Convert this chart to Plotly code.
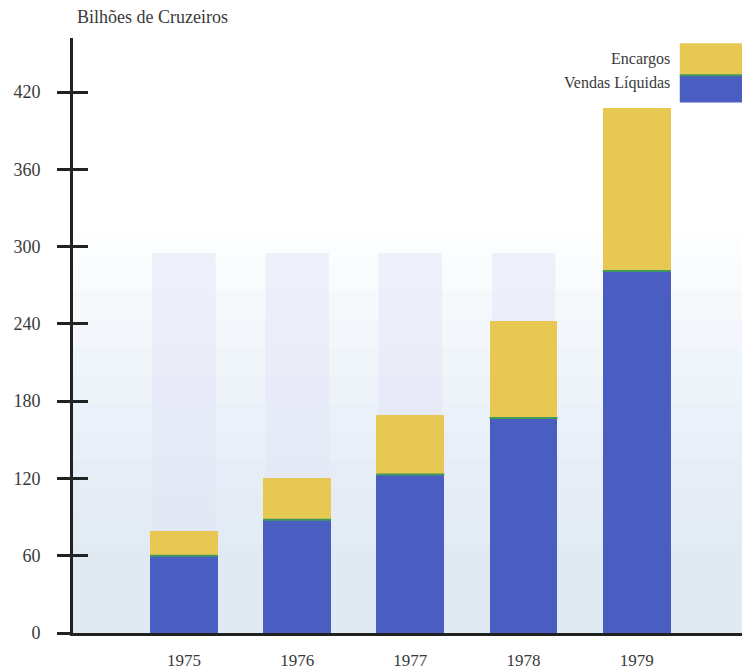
import plotly.graph_objects as go

# Annual figures, in billions of cruzeiros
anos = ["1975", "1976", "1977", "1978", "1979"]
vendas_liquidas = [60, 88, 123, 167, 281]
encargos = [19, 32, 46, 75, 127]
y_ticks = [0, 60, 120, 180, 240, 300, 360, 420]

AZUL = "#4a5ec2"
AMARELO = "#e7c853"
VERDE = "#3f9a5a"
SERIF = "Liberation Serif, DejaVu Serif, serif"
TEXT = "#3a3a3a"
FS = 17

fig = go.Figure()
fig.add_trace(go.Bar(
    x=list(range(len(anos))), y=vendas_liquidas, name="Vendas Líquidas",
    marker=dict(color=AZUL, line=dict(width=0)), width=0.6,
))
fig.add_trace(go.Bar(
    x=list(range(len(anos))), y=encargos, name="Encargos",
    marker=dict(color=AMARELO, line=dict(width=0)), width=0.6,
))
# invisible trace to drive the secondary axis used for the inner half of the ticks
fig.add_trace(go.Scatter(x=[0], y=[0], yaxis="y2", mode="markers",
                         marker=dict(opacity=0), hoverinfo="skip", showlegend=False))

shapes = []
# soft backdrop behind the columns, fading upward
for k in range(12):
    shapes.append(dict(type="rect", xref="paper", yref="y", x0=0, x1=1, y0=0, y1=310 - k * 22,
                       fillcolor="rgba(205,210,228,0.055)", line=dict(width=0), layer="below"))
# faint glass tubes behind the shorter columns
for i, total in enumerate([v + e for v, e in zip(vendas_liquidas, encargos)]):
    if total < 280:
        shapes.append(dict(type="rect", xref="x", yref="y", x0=i - 0.28, x1=i + 0.28,
                           y0=total, y1=295,
                           fillcolor="rgba(228,228,245,0.5)", line=dict(width=0), layer="below"))
# thin green seam where the two segments meet
for i, v in enumerate(vendas_liquidas):
    shapes.append(dict(type="line", xref="x", yref="y", x0=i - 0.3, x1=i + 0.3, y0=v, y1=v,
                       line=dict(color=VERDE, width=2)))
# legend swatches
shapes.append(dict(type="rect", xref="paper", yref="y", x0=0.907, x1=1.0, y0=433, y1=458,
                   fillcolor=AMARELO, line=dict(width=0)))
shapes.append(dict(type="rect", xref="paper", yref="y", x0=0.907, x1=1.0, y0=412, y1=433,
                   fillcolor=AZUL, line=dict(width=0)))
shapes.append(dict(type="line", xref="paper", yref="y", x0=0.907, x1=1.0, y0=433, y1=433,
                   line=dict(color=VERDE, width=2)))

annotations = [
    dict(text="Bilhões de Cruzeiros", xref="paper", yref="paper", x=0.003, y=1.0,
         xanchor="left", yanchor="bottom", yshift=9, showarrow=False,
         font=dict(family=SERIF, size=FS + 1, color=TEXT)),
    dict(text="Encargos", xref="paper", yref="y", x=0.895, y=446, xanchor="right",
         yanchor="middle", showarrow=False, font=dict(family=SERIF, size=FS - 1, color=TEXT)),
    dict(text="Vendas Líquidas", xref="paper", yref="y", x=0.895, y=427, xanchor="right",
         yanchor="middle", showarrow=False, font=dict(family=SERIF, size=FS - 1, color=TEXT)),
]

fig.update_layout(
    width=742, height=669,
    margin=dict(l=73, r=0, t=38, b=36),
    barmode="stack",
    showlegend=False,
    paper_bgcolor="white", plot_bgcolor="white",
    shapes=shapes, annotations=annotations,
    xaxis=dict(
        range=[-0.98, 4.93], tickmode="array", tickvals=list(range(len(anos))), ticktext=anos,
        showgrid=False, zeroline=False, showline=True, linecolor="#222", linewidth=3,
        ticks="outside", ticklen=10, tickcolor="rgba(0,0,0,0)",
        tickfont=dict(family=SERIF, size=FS, color=TEXT), fixedrange=True,
    ),
    yaxis=dict(
        range=[0, 462], tickmode="array", tickvals=y_ticks,
        showgrid=False, zeroline=False, showline=True, linecolor="#222", linewidth=3,
        ticks="outside", ticklen=13, tickwidth=3, tickcolor="#222",
        ticklabelstandoff=13,
        tickfont=dict(family=SERIF, size=FS + 1, color=TEXT), fixedrange=True,
    ),
    yaxis2=dict(
        overlaying="y", side="left", range=[0, 462], tickmode="array", tickvals=y_ticks,
        ticks="inside", ticklen=15, tickwidth=3, tickcolor="#222",
        showticklabels=False, showgrid=False, zeroline=False, showline=False, fixedrange=True,
    ),
)

fig.write_html("out.html")
